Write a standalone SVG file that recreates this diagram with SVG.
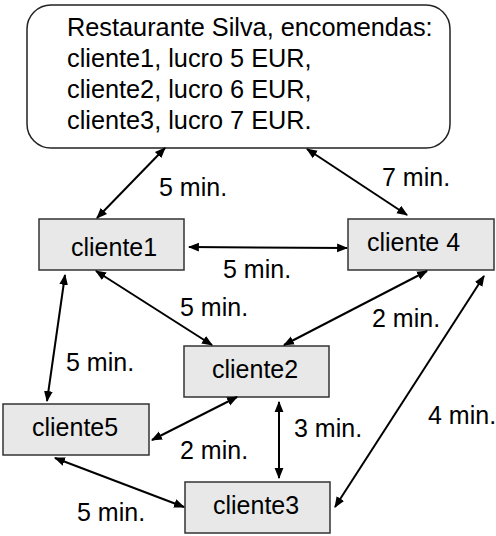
<svg xmlns="http://www.w3.org/2000/svg" width="496" height="536" viewBox="0 0 496 536">
<style>
text{font-family:"Liberation Sans",Arial,sans-serif;font-size:25px;fill:#000}
.title{font-size:25.3px}
.box{fill:#e8e8e8;stroke:#333;stroke-width:1.5}
.c line{stroke:#000;stroke-width:2;marker-start:url(#ah);marker-end:url(#ah)}
</style>
<defs>
<marker id="ah" viewBox="0 0 10 10" refX="9" refY="5" markerWidth="5.5" markerHeight="5.5" orient="auto-start-reverse" markerUnits="strokeWidth">
<path d="M0,1 L10,5 L0,9 z" fill="#000"/>
</marker>
</defs>
<g id="restaurante">
<rect x="27" y="5" width="423" height="143" rx="24" ry="24" fill="#fff" stroke="#222" stroke-width="1.5"/>
<text class="title" x="67" y="36">Restaurante Silva, encomendas:</text>
<text class="title" x="67" y="67">cliente1, lucro 5 EUR,</text>
<text class="title" x="67" y="98">cliente2, lucro 6 EUR,</text>
<text class="title" x="67" y="129">cliente3, lucro 7 EUR.</text>
</g>
<g id="cliente1"><rect class="box" x="39" y="219" width="145" height="51"/><text x="71" y="256">cliente1</text></g>
<g id="cliente4"><rect class="box" x="348" y="219" width="146" height="51"/><text x="367" y="251">cliente 4</text></g>
<g id="cliente2"><rect class="box" x="184" y="346" width="145" height="51"/><text x="212" y="378">cliente2</text></g>
<g id="cliente5"><rect class="box" x="3" y="404" width="146" height="51"/><text x="32" y="436">cliente5</text></g>
<g id="cliente3"><rect class="box" x="185" y="482" width="145" height="51"/><text x="213" y="514">cliente3</text></g>
<g id="connectors" class="c">
<line x1="165" y1="148" x2="97" y2="218"/>
<line x1="307" y1="149" x2="407" y2="215"/>
<line x1="189" y1="247" x2="347" y2="248"/>
<line x1="96" y1="271" x2="212" y2="345"/>
<line x1="427" y1="271" x2="284" y2="345"/>
<line x1="65" y1="275" x2="47" y2="401"/>
<line x1="237" y1="397" x2="152" y2="440"/>
<line x1="279" y1="402" x2="279" y2="478"/>
<line x1="55" y1="458" x2="184" y2="507"/>
<line x1="484" y1="276" x2="335" y2="507"/>
</g>
<g id="labels">
<text x="159" y="196">5 min.</text>
<text x="382" y="186">7 min.</text>
<text x="223" y="278">5 min.</text>
<text x="180" y="316">5 min.</text>
<text x="372" y="327">2 min.</text>
<text x="66" y="371">5 min.</text>
<text x="294" y="437">3 min.</text>
<text x="428" y="424">4 min.</text>
<text x="180" y="459">2 min.</text>
<text x="77" y="521">5 min.</text>
</g>
</svg>
